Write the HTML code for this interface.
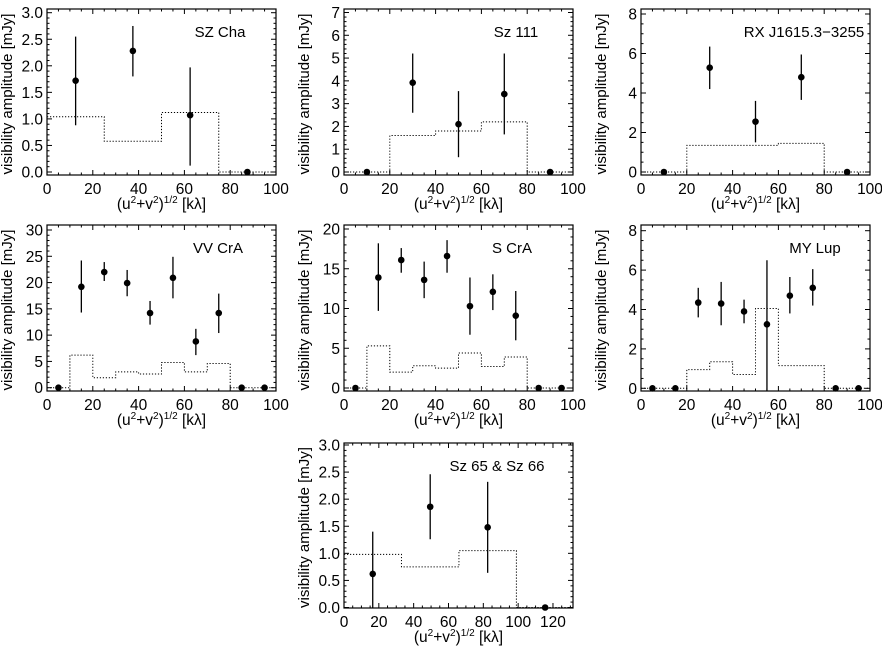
<!DOCTYPE html>
<html><head><meta charset="utf-8"><style>
html,body{margin:0;padding:0;background:#fff;}
svg{display:block;font-family:"Liberation Sans",sans-serif;}
</style></head><body>
<svg id="fig" width="882" height="647" viewBox="0 0 882 647"></svg>
<script>
// ---- data arrays ----
const p1X = [12.5, 37.5, 62.5, 87.5];
const p1Y = [1.72, 2.28, 1.07, 0];
const p1Lo = [0.88, 1.80, 0.12, 0];
const p1Hi = [2.55, 2.75, 1.97, 0];
const p1Edges = [0, 25, 50, 75, 100];
const p1Model = [1.04, 0.58, 1.12, 0];

const p2X = [10, 30, 50, 70, 90];
const p2Y = [0, 3.92, 2.1, 3.42, 0];
const p2Lo = [0, 2.6, 0.65, 1.65, 0];
const p2Hi = [0, 5.2, 3.55, 5.2, 0];
const p2Edges = [0, 20, 40, 60, 80, 100];
const p2Model = [0, 1.6, 1.8, 2.2, 0];

const p3X = [10, 30, 50, 70, 90];
const p3Y = [0, 5.28, 2.55, 4.8, 0];
const p3Lo = [0, 4.2, 1.5, 3.65, 0];
const p3Hi = [0, 6.35, 3.6, 5.95, 0];
const p3Edges = [0, 20, 40, 60, 80, 100];
const p3Model = [0, 1.35, 1.35, 1.45, 0];

const p4X = [5, 15, 25, 35, 45, 55, 65, 75, 85, 95];
const p4Y = [0, 19.2, 22, 19.9, 14.2, 20.9, 8.8, 14.2, 0, 0];
const p4Lo = [0, 14.3, 20.3, 17.4, 12, 17, 6.2, 10.4, 0, 0];
const p4Hi = [0, 24.2, 23.9, 22.4, 16.5, 24.9, 11.2, 17.9, 0, 0];
const p4Edges = [0, 10, 20, 30, 40, 50, 60, 70, 80, 90, 100];
const p4Model = [0, 6.2, 1.9, 3.0, 2.6, 4.8, 3.0, 4.6, 0, 0];

const p5X = [5, 15, 25, 35, 45, 55, 65, 75, 85, 95];
const p5Y = [0, 13.9, 16.1, 13.6, 16.6, 10.3, 12.1, 9.1, 0, 0];
const p5Lo = [0, 9.7, 14.5, 11.3, 14.5, 6.7, 9.8, 6.0, 0, 0];
const p5Hi = [0, 18.2, 17.6, 15.9, 18.6, 13.9, 14.3, 12.2, 0, 0];
const p5Edges = [0, 10, 20, 30, 40, 50, 60, 70, 80, 90, 100];
const p5Model = [0, 5.3, 2.0, 2.8, 2.5, 4.4, 2.7, 3.9, 0, 0];

const p6X = [5, 15, 25, 35, 45, 55, 65, 75, 85, 95];
const p6Y = [0, 0, 4.35, 4.3, 3.9, 3.25, 4.7, 5.1, 0, 0];
const p6Lo = [0, 0, 3.6, 3.2, 3.3, -0.2, 3.8, 4.2, 0, 0];
const p6Hi = [0, 0, 5.1, 5.4, 4.5, 6.5, 5.65, 6.05, 0, 0];
const p6Edges = [0, 10, 20, 30, 40, 50, 60, 70, 80, 90, 100];
const p6Model = [0, 0, 0.95, 1.35, 0.7, 4.05, 1.15, 1.15, 0, 0];

const p7X = [16.5, 49.5, 82.5, 115.5];
const p7Y = [0.62, 1.86, 1.48, 0];
const p7Lo = [-0.1, 1.26, 0.64, 0];
const p7Hi = [1.4, 2.46, 2.32, 0];
const p7Edges = [0, 33, 66, 99, 132];
const p7Model = [0.98, 0.75, 1.05, 0];

const yTicks1 = ["0.0","0.5","1.0","1.5","2.0","2.5","3.0"];
const yTicks2 = ["0","1","2","3","4","5","6","7"];
const yTicks3 = ["0","2","4","6","8"];
const yTicks4 = ["0","5","10","15","20","25","30"];
const yTicks5 = ["0","5","10","15","20"];
const xTicks100 = ["0","20","40","60","80","100"];
const xTicks120 = ["0","20","40","60","80","100","120"];

const NS = "http://www.w3.org/2000/svg";
const svg = document.getElementById("fig");
function mk(tag, attrs, parent) {
  const e = document.createElementNS(NS, tag);
  for (const k in attrs) e.setAttribute(k, attrs[k]);
  (parent || svg).appendChild(e);
  return e;
}

function panel(cfg) {
  const g = mk("g", {});
  
  
  const L = cfg.box[0], R = cfg.box[1], T = cfg.box[2], B = cfg.box[3];
  const yT = cfg.yTop, yB = cfg.yBot;
  const sx = v => L + (v - cfg.xMin) / (cfg.xMax - cfg.xMin) * (R - L);
  const sy = v => yB - (v - 0) / (cfg.yMax - 0) * (yB - yT);
  const tk = mk("g", {stroke: "#000", "stroke-width": 1}, g);
  
  
  for (let v = cfg.xMin; v <= cfg.xMax + 1e-6; v += cfg.xMinor) {
    const x = sx(v);
    if (x > R + 0.5) break;
    const major = Math.abs(v / cfg.xMajor - Math.round(v / cfg.xMajor)) < 1e-6;
    const len = major ? 5 : 2.5;
    mk("line", {x1: x, x2: x, y1: B, y2: B - len}, tk);
    mk("line", {x1: x, x2: x, y1: T, y2: T + len}, tk);
  }
  for (let v = 0; v <= cfg.yMax * 1.03; v += cfg.yMinor) {
    const y = sy(v);
    if (y < T - 0.5) break;
    const major = Math.abs(v / cfg.yMajor - Math.round(v / cfg.yMajor)) < 1e-6;
    const len = major ? 5 : 2.5;
    mk("line", {x1: L, x2: L + len, y1: y, y2: y}, tk);
    mk("line", {x1: R, x2: R - len, y1: y, y2: y}, tk);
  }
  cfg.xLabels.forEach((s, i) => {
    const t = mk("text", {x: sx(i * cfg.xMajor), y: B + 19, "font-size": 15.5, "text-anchor": "middle"}, g);
    t.textContent = s;
    
    
  });
  cfg.yLabels.forEach((s, i) => {
    const t = mk("text", {x: L - 4, y: sy(i * cfg.yMajor) + 5.5, "font-size": 15.5, "text-anchor": "end"}, g);
    t.textContent = s;
    
    
  });
  const yt = mk("text", {x: 0, y: 0, "font-size": 15, "text-anchor": "middle", transform: `translate(${L - 35},${(T + B) / 2 + 2}) rotate(-90)`}, g);
  yt.textContent = "visibility amplitude [mJy]";
  
  
  const xt = mk("text", {x: (L + R) / 2, y: B + 34, "font-size": 15.5, "text-anchor": "middle"}, g);
  xt.innerHTML = '(u<tspan font-size="10" dy="-6">2</tspan><tspan dy="6">+v</tspan><tspan font-size="10" dy="-6">2</tspan><tspan dy="6">)</tspan><tspan font-size="10" dy="-6">1/2</tspan><tspan dy="6"> [kλ]</tspan>';
  
  
  const tt = mk("text", {x: cfg.titleX, y: T + 28, "font-size": 15, "text-anchor": "middle"}, g);
  tt.textContent = cfg.title;
  
  
  let d = "";
  cfg.model.forEach((m, i) => {
    const x0 = sx(cfg.edges[i]), x1 = Math.min(sx(cfg.edges[i + 1]), R), y = sy(m);
    d += (i === 0 ? "M" : "L") + x0 + "," + y + "L" + x1 + "," + y;
  });
  const mp = mk("path", {d: d, fill: "none", stroke: "#000", "stroke-width": 1, "stroke-dasharray": "1.2,1.8"}, g);
  
  
  cfg.xs.forEach((xv, i) => {
    const x = sx(xv);
    if (cfg.hi[i] !== cfg.lo[i]) {
      const el = mk("line", {x1: x, x2: x, y1: Math.min(sy(cfg.lo[i]), B), y2: sy(cfg.hi[i]), stroke: "#000", "stroke-width": 1.3}, g);
      
      
    }
    const c = mk("circle", {cx: x, cy: sy(cfg.ys[i]), r: 3.3, fill: "#000"}, g);
    
    
  });
  const fr = mk("rect", {x: L, y: T, width: R - L, height: B - T, fill: "none", stroke: "#000", "stroke-width": 1.2}, g);
  
  
}

panel({name: "panel-sz-cha", title: "SZ Cha", titleX: 220, box: [47, 276, 9, 175], yTop: 12.7, yBot: 172, yMax: 3, yMajor: 0.5, yMinor: 0.1, yLabels: yTicks1, xMin: 0, xMax: 100, xMajor: 20, xMinor: 5, xLabels: xTicks100, xs: p1X, ys: p1Y, lo: p1Lo, hi: p1Hi, edges: p1Edges, model: p1Model});
panel({name: "panel-sz-111", title: "Sz 111", titleX: 516, box: [344, 573, 9, 175], yTop: 12.5, yBot: 172, yMax: 7, yMajor: 1, yMinor: 0.2, yLabels: yTicks2, xMin: 0, xMax: 100, xMajor: 20, xMinor: 5, xLabels: xTicks100, xs: p2X, ys: p2Y, lo: p2Lo, hi: p2Hi, edges: p2Edges, model: p2Model});
panel({name: "panel-rx-j1615", title: "RX J1615.3−3255", titleX: 804, box: [641, 870, 9, 175], yTop: 14, yBot: 172, yMax: 8, yMajor: 2, yMinor: 0.5, yLabels: yTicks3, xMin: 0, xMax: 100, xMajor: 20, xMinor: 5, xLabels: xTicks100, xs: p3X, ys: p3Y, lo: p3Lo, hi: p3Hi, edges: p3Edges, model: p3Model});
panel({name: "panel-vv-cra", title: "VV CrA", titleX: 218, box: [47, 276, 225, 391], yTop: 230, yBot: 387.7, yMax: 30, yMajor: 5, yMinor: 1, yLabels: yTicks4, xMin: 0, xMax: 100, xMajor: 20, xMinor: 5, xLabels: xTicks100, xs: p4X, ys: p4Y, lo: p4Lo, hi: p4Hi, edges: p4Edges, model: p4Model});
panel({name: "panel-s-cra", title: "S CrA", titleX: 512, box: [344, 573, 225, 391], yTop: 229, yBot: 388, yMax: 20, yMajor: 5, yMinor: 1, yLabels: yTicks5, xMin: 0, xMax: 100, xMajor: 20, xMinor: 5, xLabels: xTicks100, xs: p5X, ys: p5Y, lo: p5Lo, hi: p5Hi, edges: p5Edges, model: p5Model});
panel({name: "panel-my-lup", title: "MY Lup", titleX: 815, box: [641, 870, 225, 391], yTop: 230.7, yBot: 388.3, yMax: 8, yMajor: 2, yMinor: 0.5, yLabels: yTicks3, xMin: 0, xMax: 100, xMajor: 20, xMinor: 5, xLabels: xTicks100, xs: p6X, ys: p6Y, lo: p6Lo, hi: p6Hi, edges: p6Edges, model: p6Model});
panel({name: "panel-sz65-sz66", title: "Sz 65 & Sz 66", titleX: 497, box: [344, 573, 443, 608], yTop: 445, yBot: 607.5, yMax: 3, yMajor: 0.5, yMinor: 0.1, yLabels: yTicks1, xMin: 0, xMax: 131.5, xMajor: 20, xMinor: 5, xLabels: xTicks120, xs: p7X, ys: p7Y, lo: p7Lo, hi: p7Hi, edges: p7Edges, model: p7Model});
</script>
</body></html>
